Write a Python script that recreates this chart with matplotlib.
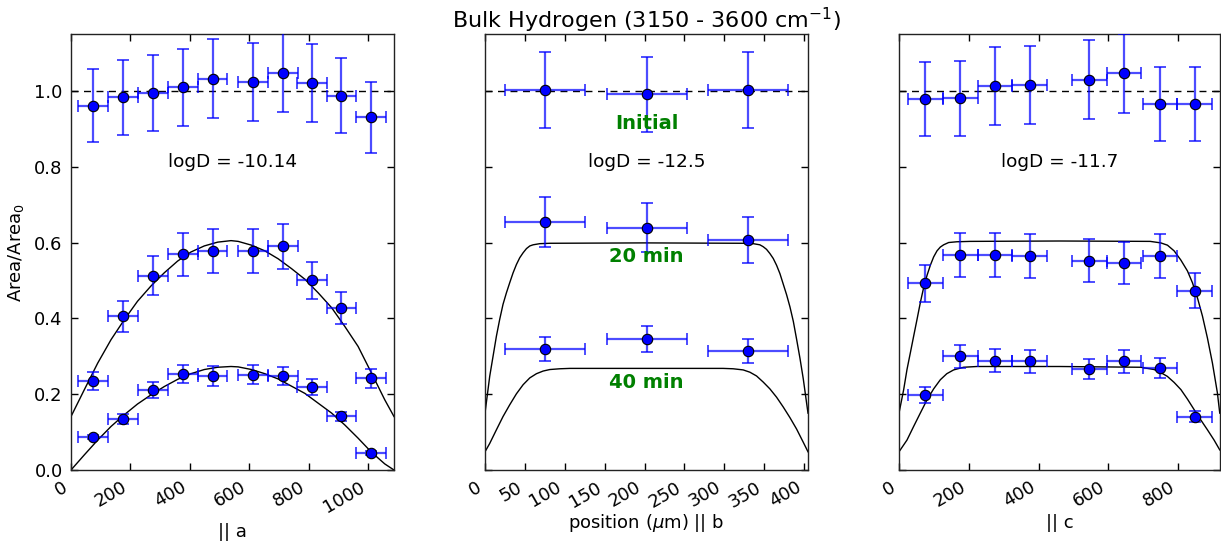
import numpy as np
import matplotlib
matplotlib.use("Agg")
import matplotlib.pyplot as plt

# ---------------- data ----------------
# Panel a
a_x = [75, 175, 276, 377, 477, 614, 713, 811, 911, 1011]
a_init = [0.961, 0.983, 0.994, 1.009, 1.032, 1.023, 1.048, 1.021, 0.987, 0.930]
a_init_err = [0.097, 0.099, 0.100, 0.101, 0.104, 0.102, 0.105, 0.102, 0.099, 0.094]
a_20 = [0.234, 0.405, 0.513, 0.569, 0.578, 0.578, 0.590, 0.500, 0.427, 0.242]
a_20_err = [0.024, 0.041, 0.052, 0.057, 0.058, 0.058, 0.059, 0.049, 0.043, 0.025]
a_40 = [0.087, 0.135, 0.211, 0.254, 0.248, 0.251, 0.247, 0.220, 0.142, 0.045]
a_40_err = [0.006, 0.014, 0.021, 0.024, 0.026, 0.025, 0.024, 0.021, 0.012, 0.005]

a_fit_x = [0, 45, 90, 135, 180, 224, 269, 314, 359, 404, 449, 494, 539, 563, 608, 653,
           698, 743, 788, 833, 878, 922, 967, 1012, 1057, 1088]
a_fit_20 = [0.141, 0.212, 0.282, 0.344, 0.397, 0.445, 0.485, 0.520, 0.551, 0.575, 0.591,
            0.601, 0.605, 0.603, 0.593, 0.578, 0.557, 0.531, 0.503, 0.467, 0.428, 0.379,
            0.326, 0.256, 0.185, 0.141]
a_fit_40 = [0.000, 0.040, 0.079, 0.115, 0.146, 0.174, 0.198, 0.220, 0.239, 0.254, 0.265,
            0.271, 0.273, 0.272, 0.265, 0.254, 0.240, 0.221, 0.202, 0.176, 0.150, 0.119,
            0.084, 0.047, 0.016, 0.000]

# Panel b
b_x = [75, 203, 330]
b_init = [1.003, 0.991, 1.003]
b_init_err = [0.100, 0.099, 0.100]
b_20 = [0.653, 0.639, 0.606]
b_20_err = [0.066, 0.064, 0.061]
b_40 = [0.319, 0.345, 0.313]
b_40_err = [0.032, 0.034, 0.032]

b_fit_20_x = [0, 5.9, 10.1, 14.3, 18.4, 22.6, 26.8, 31.0, 35.2, 39.4, 43.6, 47.8, 52.0,
              56.2, 60.4, 68.7, 81.3, 200, 323.7, 336.3, 344.6, 348.8, 353.0, 357.2,
              361.4, 365.6, 369.8, 374.0, 378.2, 382.4, 386.6, 390.7, 394.9, 399.1, 405]
b_fit_20 = [0.150, 0.247, 0.300, 0.353, 0.397, 0.437, 0.467, 0.494, 0.520, 0.542, 0.560,
            0.573, 0.584, 0.591, 0.594, 0.597, 0.598, 0.599, 0.598, 0.597, 0.594, 0.589,
            0.582, 0.571, 0.558, 0.540, 0.518, 0.490, 0.462, 0.430, 0.392, 0.345, 0.295,
            0.240, 0.150]
b_fit_40_x = [0, 5.9, 14.3, 22.6, 31.0, 39.4, 47.8, 56.2, 64.5, 72.9, 81.3, 93.9, 106.5,
              200, 298.5, 311.1, 323.7, 332.1, 340.5, 348.8, 357.2, 365.6, 374.0, 382.4,
              390.7, 399.1, 405]
b_fit_40 = [0.048, 0.070, 0.106, 0.141, 0.172, 0.201, 0.225, 0.243, 0.254, 0.261, 0.265,
            0.267, 0.268, 0.268, 0.268, 0.267, 0.264, 0.258, 0.248, 0.232, 0.214, 0.192,
            0.166, 0.138, 0.108, 0.073, 0.048]

# Panel c
c_x = [75, 175, 275, 375, 545, 645, 748, 847]
c_init = [0.978, 0.981, 1.013, 1.016, 1.029, 1.046, 0.966, 0.965]
c_init_err = [0.098, 0.099, 0.102, 0.103, 0.104, 0.105, 0.097, 0.097]
c_20 = [0.493, 0.566, 0.566, 0.564, 0.552, 0.546, 0.564, 0.473]
c_20_err = [0.049, 0.058, 0.058, 0.058, 0.057, 0.056, 0.058, 0.047]
c_40 = [0.198, 0.300, 0.288, 0.287, 0.266, 0.287, 0.269, 0.141]
c_40_err = [0.021, 0.031, 0.030, 0.030, 0.027, 0.030, 0.027, 0.014]

c_fit_20_x = [0, 13.4, 22.9, 32.5, 42.0, 51.6, 61.0, 70.6, 80.2, 89.8, 99.3, 108.9,
              118.4, 128.0, 142.3, 166.0, 204.0, 460, 720, 750.4, 769.4, 788.5, 807.6,
              826.7, 841.0, 855.4, 869.7, 884.0, 898.3, 912.6, 919.3]
c_fit_20 = [0.150, 0.212, 0.265, 0.309, 0.353, 0.397, 0.441, 0.481, 0.513, 0.540, 0.562,
            0.578, 0.588, 0.594, 0.600, 0.602, 0.603, 0.604, 0.603, 0.599, 0.593, 0.578,
            0.554, 0.525, 0.494, 0.454, 0.406, 0.348, 0.282, 0.203, 0.150]
c_fit_40_x = [0, 22.9, 42.0, 61.0, 80.2, 99.3, 118.4, 137.0, 156.6, 185.0, 223.5, 460,
              693, 731, 750, 769, 788.5, 808, 826.7, 846, 865, 884, 903, 919.3]
c_fit_40 = [0.048, 0.079, 0.115, 0.150, 0.185, 0.214, 0.238, 0.254, 0.264, 0.271, 0.273,
            0.273, 0.271, 0.265, 0.257, 0.247, 0.231, 0.212, 0.187, 0.159, 0.132, 0.106,
            0.079, 0.053]

panels = [
    dict(x=a_x, series=[(a_init, a_init_err), (a_20, a_20_err), (a_40, a_40_err)],
         fits=[(a_fit_x, a_fit_20), (a_fit_x, a_fit_40)], xlim=(0, 1088),
         xticks=[0, 200, 400, 600, 800, 1000], xlabel="|| a", logd="logD = -10.14",
         lpad=5),
    dict(x=b_x, series=[(b_init, b_init_err), (b_20, b_20_err), (b_40, b_40_err)],
         fits=[(b_fit_20_x, b_fit_20), (b_fit_40_x, b_fit_40)], xlim=(0, 405),
         xticks=[0, 50, 100, 150, 200, 250, 300, 350, 400],
         xlabel=r"position ($\mu$m) || b", logd="logD = -12.5", lpad=1),
    dict(x=c_x, series=[(c_init, c_init_err), (c_20, c_20_err), (c_40, c_40_err)],
         fits=[(c_fit_20_x, c_fit_20), (c_fit_40_x, c_fit_40)], xlim=(0, 920),
         xticks=[0, 200, 400, 600, 800], xlabel="|| c", logd="logD = -11.7", lpad=2),
]

W, H = 1221, 545
fig = plt.figure(figsize=(W / 100, H / 100), dpi=100)
lefts = [71, 485, 899]
widths = [323, 323, 321]
bottom_px, top_px = 470, 34

FS = 13
axes = []
for i, p in enumerate(panels):
    ax = fig.add_axes([lefts[i] / W, (H - bottom_px) / H, widths[i] / W,
                       (bottom_px - top_px) / H])
    axes.append(ax)
    ax.axhline(1.0, color="black", ls="--", lw=1.0, dashes=(5, 4), zorder=1)
    for fx, fy in p["fits"]:
        ax.plot(fx, fy, color="black", lw=1.0, zorder=2)
    for yv, ye in p["series"]:
        ax.errorbar(p["x"], yv, yerr=ye, xerr=50, fmt="none",
                    ecolor=(0.0, 0.0, 1.0, 0.7), elinewidth=1.6, capsize=4,
                    capthick=1.4, zorder=3)
        ax.plot(p["x"], yv, "o", color="blue", mec="black", mew=0.8, ms=7.5, zorder=4)
    ax.set_xlim(*p["xlim"])
    ax.set_ylim(0, 1.15)
    ax.set_xticks(p["xticks"])
    ax.set_yticks([0.0, 0.2, 0.4, 0.6, 0.8, 1.0])
    ax.tick_params(direction="in", top=True, right=True, length=5, width=1,
                   labelsize=FS, pad=6)
    for lab in ax.get_xticklabels():
        lab.set_rotation(30)
        lab.set_ha("right")
    if i == 0:
        ax.set_yticklabels(["0.0", "0.2", "0.4", "0.6", "0.8", "1.0"])
        ax.set_ylabel(r"Area/Area$_0$", fontsize=FS, labelpad=6)
    else:
        ax.set_yticklabels([])
    ax.set_xlabel(p["xlabel"], fontsize=FS, labelpad=p["lpad"])
    ax.text(0.5, 0.706, p["logd"], transform=ax.transAxes, ha="center",
            va="center", fontsize=13.3)
    for s in ax.spines.values():
        s.set_linewidth(1.0)
        s.set_color("#222222")

ax2 = axes[1]
ax2.set_title(r"Bulk Hydrogen (3150 - 3600 cm$^{-1}$)", fontsize=16, pad=4)
for lbl, yv in [("Initial", 0.915), ("20 min", 0.563), ("40 min", 0.231)]:
    ax2.text(0.5, yv / 1.15, lbl, transform=ax2.transAxes, ha="center",
             va="center", fontsize=14, fontweight="bold", color="green")

fig.savefig("out.png", dpi=100)
